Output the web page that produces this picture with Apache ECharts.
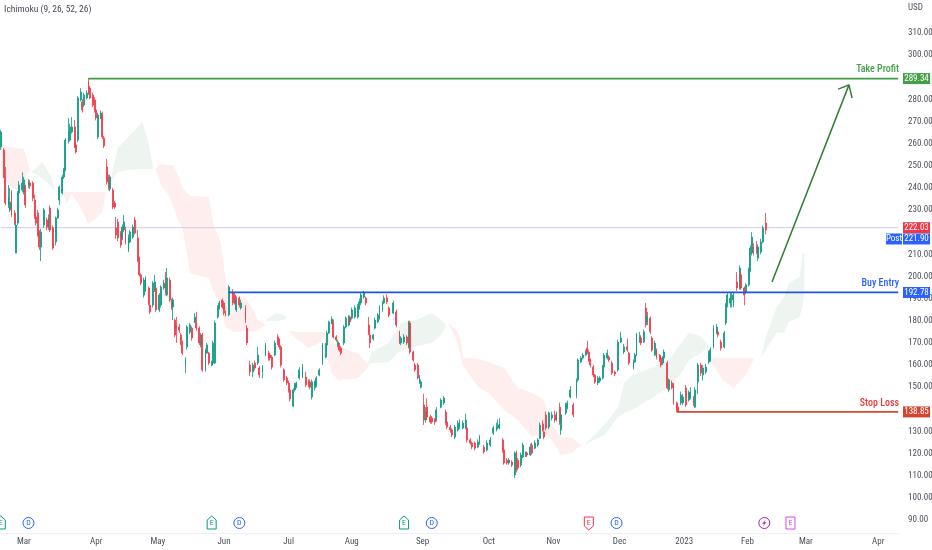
<!DOCTYPE html>
<html><head><meta charset="utf-8">
<style>html,body{margin:0;padding:0;background:#fff}#c{width:932px;height:550px;filter:blur(.35px)}</style>
<script src="https://cdn.jsdelivr.net/npm/echarts@6/dist/echarts.min.js"></script>
</head><body><div id="c"></div>
<script>
const barCount = 584;
const priceTicks = [90,100,110,120,130,150,160,170,180,190,200,210,230,240,250,260,270,280,300,310];
const monthTicks = [[15,'Mar'],[62,'Apr'],[102,'May'],[145,'Jun'],[187,'Jul'],[228,'Aug'],[274,'Sep'],[317,'Oct'],[359,'Nov'],[402,'Dec'],[444,'2023'],[485,'Feb'],[523,'Mar'],[570,'Apr']];
// bar, open, close, low, high
const candles = [
[0,258.5,265.2,257.1,266.1],[2,257.1,244.9,244.5,258],[3,244.9,233.2,232.3,249.4],[5,232.3,235.9,230.9,241.3],[6,230,233.6,229.1,240],[7,238.1,227.8,226.9,239],[9,228.7,224.1,223.2,230],[10,210.6,223.2,210.6,224.6],[11,224.1,237.7,223.2,238.6],[12,237.7,241.3,236.8,243],
[14,239,242.2,238,247],[15,238.1,243.6,237,245],[16,240.4,232.3,231,241.5],[18,241.3,242.7,240,244],[19,242.2,240.9,239.5,243.5],[21,242.2,235.4,234,243],[22,234.5,226.9,226,237],[23,226.9,224.1,223,228.5],[24,228.7,218.7,218,230],[25,220.1,213.3,212,221],
[26,213.3,220.1,207,221.5],[28,223.2,230,222,231],[30,225.5,222.3,221,226.5],[31,222.3,226.4,221,228],[32,230.9,221,220,232],[34,221.9,212.9,212,223],[36,215.6,226.4,214,227],[37,226.4,230,226,231],[38,234.5,240.4,232.3,241],[40,237.7,244.9,237,246],
[41,244.9,248.1,244,249],[42,248.1,261.6,247.5,262.5],[44,260.7,265.2,260,271.5],[45,261.6,267.5,261,269],[46,265.2,267.5,264.5,272],[48,267.5,258.5,258,270.7],[49,259.4,256.2,255.5,260.5],[50,261.6,280.6,260.7,281.5],[52,279.7,283.3,279,285],[53,278.8,275.2,274,280],
[54,277.4,281.9,276.5,283],[56,280.6,282.8,280,284],[57,287.8,282.8,282,289.6],[58,285.1,280.6,280,286],[60,281.9,277.4,276.5,283],[61,279.7,275.2,274,281],[62,275.2,271.6,270.5,276],[63,263,272.9,262,274],[65,271.6,273.8,271,275],[66,272.9,263,262,274.5],
[67,262.5,258.9,258,263.5],[69,249.4,242.7,241.5,253],[70,244.9,240.4,239,246],[71,239.5,244.9,238.5,246],[73,239,231.4,230.5,240],[74,233.2,231.4,230.5,234],[75,221.9,218.7,217,226.9],[76,224.6,217.4,216,226],[78,219.6,214.2,213,220.5],[79,217.4,222.3,216.5,223.5],
[80,221,224.6,220,227.8],[81,221,215.6,214.5,222.5],[83,212,217.8,211,219],[84,215.6,220.1,215,221],[86,217.8,222.3,217,223.5],[87,225.5,219.6,219,226.9],[89,217.4,207.4,206.5,221],[90,208.3,200.7,200,209],[91,200.7,197,196,201.5],[93,191.6,198.4,190.5,199.5],
[94,193.9,199.3,193,200],[96,194.8,188,187,195.5],[97,187.1,184,183,188],[99,187.1,197,186,198],[100,193.9,197.5,193,200.7],[101,194.8,184.9,184,196],[103,184.9,191.6,184,192.5],[104,187.1,195.2,186,196],[106,194.8,197,194,198.5],[107,199.3,192.5,191.5,202],
[108,191.6,199.3,191,203.8],[110,198.4,189.4,188.5,199.5],[111,189.4,186.2,185,190],[112,186.2,189.4,180.3,190.5],[113,180.3,173.6,172.5,181],[114,178.1,176.7,170,181.7],[116,177.2,175.8,174.5,178.5],[117,173.6,170,169,174.5],[118,170,165.4,164.5,171],[120,160,162.3,156.4,163.5],
[121,168.2,177.2,167,178],[123,174.9,178.1,174,179],[124,176.7,172.2,171,177.5],[126,179.5,181.7,179,183.5],[127,179.5,176.7,175.5,184],[129,176.7,170,169,177.5],[130,169.1,173.6,168,174.5],[131,173.6,157.8,157,174.5],[133,157.8,166.8,157,167.5],[134,165.4,169.1,165,170],
[135,165.4,160.9,160,166],[137,160,161.4,159.5,162],[138,160.9,170,160,171],[139,160.9,179,160.5,180],[141,181.7,186.2,181,187],[142,185.8,188,185,189],[144,189.4,186.2,185.5,190],[145,188,183.5,182.5,189],[146,183.5,182.6,182,184.5],[148,182.6,195.2,182,196],
[151,192.5,188,187,194.3],[152,191.6,188,187.3,192.8],[153,184.9,189.4,184,191],[155,190.3,187.1,186,191],[156,185.8,188,185,189.5],[159,185.8,180.3,179,187],[160,176.7,170,169,178],[162,160,156.9,155,162],[164,156.9,160,154.6,161],[165,160.9,158.7,157.5,162],
[167,160.9,164.5,160,168.2],[168,158.7,155.5,154.2,159.5],[170,156.9,159.1,154,160],[172,164.5,169.1,164,170],[174,165.4,163.2,162,166.5],[175,164.5,163.2,162,165.5],[176,163.6,159.1,158,164.5],[178,164.5,169.9,164,171],[180,172.7,170,169,174],[181,171.3,168.2,167,172],
[182,168.2,160,159,169],[184,157.8,153.3,152.5,158.5],[186,154.2,151.9,151,155],[187,151.9,148.8,147.5,153],[188,148.8,144.7,143.5,149.5],[190,141.5,148.8,141,149.5],[191,148.8,151,148,152],[192,150,151.9,149.5,152.5],[194,154.2,157.8,153.5,159],[196,154.6,159.1,154,160.5],
[198,154.6,151,150,157],[200,152.4,151,150,153.5],[201,152.4,150,149,153.5],[202,145.6,152.4,144.5,153.5],[204,149.7,152.4,148.5,153],[205,151,154.2,150,155],[207,155.5,157.8,155,158.5],[209,160.9,169.1,160,170],[211,163.6,169.1,163,170],[212,169.1,174.5,168.5,175.5],
[213,174.5,179.4,174,180],[215,179,180.8,178.5,182],[216,179,172.7,172,180.5],[218,172.7,171.3,170.5,173.5],[219,169.1,170.4,168,171.5],[220,169.1,166.8,166,170],[221,167.7,165.4,164.5,168.5],[223,170,177.2,169,178],[224,177.2,181.2,176.5,182],[226,178.1,181.7,177.5,182.5],
[227,181.7,179.5,178.5,182.5],[228,181.2,184.9,180.5,186],[230,181.7,185.8,181,187],[232,181.7,186.2,181,187.5],[233,185.8,188.5,185,190],[234,188,191.6,187,192.5],[236,190.7,192.5,190,193.5],[237,190.3,188,187,191],[239,178.1,174.5,173.5,181.7],[240,173.6,170,167.7,174.5],
[242,171.8,173.6,171,174],[243,176.7,180.3,176,181.5],[245,179.5,182.6,179,183.5],[246,181.2,185.8,180.5,187],[248,184.9,188,184,189],[249,188,190.3,187.5,191.5],[251,190.3,188.5,187.5,192],[252,185.8,182.6,181.5,186.5],[255,183.5,188,183,189],[257,184,178.1,177,185],
[259,174.9,170.4,169.5,175.5],[260,170,172.2,169,173],[262,170.4,172.7,169.5,174],[264,172.7,170,169,173.5],[265,168.2,179,167.5,180],[266,179,165.9,165,180],[268,165.9,162.3,161.5,166.5],[269,160,157.8,157,161],[271,160,154.2,153.5,161],[272,152.4,154.6,151.5,155.5],
[273,150,152.4,149.5,153.5],[275,142,135.2,133,147],[276,135.2,138.8,134,141],[277,141,136.6,135.5,145],[279,136.6,134.3,133.5,137.5],[280,136.1,134.3,133.5,137],[282,135.2,134.3,133,136],[283,135.2,139.7,134.5,141],[286,141,144.2,140.5,145],[288,142.9,145.1,142,146],
[289,138.8,134.3,133,140],[290,134.3,132,131,135],[292,132,130.7,129.5,133],[293,130.7,128.4,127.5,131.5],[295,127.5,132,126.5,133],[297,130.7,133.8,130,135],[298,132,134.3,131,135.5],[300,131.6,133.8,131,135],[302,131.6,135.2,131,138],[303,131.6,126.2,125,132.5],
[305,126.2,124.8,124,127],[306,124.8,123,122,125.5],[308,124.8,122.5,121.5,125.5],[310,123,125.3,122.5,126.5],[311,124.8,127.5,124,128.5],[314,123,120.8,120,124],[316,121.7,124.8,121,126],[318,123.9,126.2,123,127.5],[320,129.3,131.6,128.5,132.5],[322,130.7,132,130,134],
[323,131.6,133,131,135.5],[324,131.6,133.4,131,136],[326,126.2,121.7,120.5,127],[327,121.7,115.8,115,122.5],[329,117.1,115.8,115,118],[330,115.8,117.1,115,118],[332,116.2,114.9,114,117],[334,110.4,120.3,109,121],[335,120.8,112.6,111.5,121.5],[336,117.1,113.5,112.5,118],
[338,114.9,119.4,114,120.5],[339,118.5,123.9,118,125],[341,119,120.3,118.5,121],[342,120.3,119.4,118.5,121],[344,119.4,123,119,124.5],[345,123.9,120.3,119.5,125],[347,122.5,124.8,122,126],[349,123.9,126.2,123,127],[350,127,132.9,126.5,134],[352,133.4,130.7,130,135],
[353,129.8,127.5,126.5,130.5],[354,137.5,131.6,130.5,139],[356,132,138.4,131,139],[358,136.1,137.5,135,139],[360,137.5,135.2,134,139.5],[361,135.2,138.4,134.5,139],[363,141,134.3,133,143],[364,130.7,137.5,128.5,138.5],[367,138.4,142,137.5,143],[368,141,142.9,140,144],
[370,145.6,148.8,145,150.5],[372,142,137.5,136.5,143],[374,146.5,153.3,145,154],[375,153.3,162.3,152.5,163],[377,161.4,163.2,161,164],[378,163.2,164.5,162.5,165.5],[380,164.5,165.9,164,167],[381,167.7,165.9,165,171],[382,165.9,162.3,161.5,167],[383,162.3,160,159,163],
[385,159.1,155.5,154.5,160],[386,155.5,152.4,151.5,156],[388,151.9,154.2,151,155],[389,152.8,154.2,152,155],[391,154.2,159.1,153.5,160],[392,159.1,164.5,158.5,165.5],[394,163.2,165.4,162.5,167],[395,163.6,162.3,161.5,164.5],[397,160.9,156.4,155.5,162],[399,156.9,156,155,157.5],
[401,157.8,170.4,157,171.5],[403,170.4,172.2,170,175],[405,165.9,168.2,165,169.5],[407,168.2,166.8,166,172],[408,165.4,160.9,160,166],[411,158.7,161.4,158,162.5],[412,161.4,164.5,161,165.5],[413,164.5,173.6,164,174.5],[415,170.4,172.7,170,175],[416,172.2,170,169,173.5],
[418,170.4,175,170,176],[419,185.8,178.1,177,188],[420,179.5,181.7,178,184],[422,181.2,175,174,182],[423,172.2,166.8,166,173],[425,164.5,169.9,164,171],[426,166.8,163.6,162.5,167.5],[428,164.5,162.3,161.5,165],[429,163.2,160,159,164],[430,160.9,163.2,160,164],
[431,163.2,165.9,162.5,167],[433,160.9,149.7,149,162],[434,148.8,153.3,148,154],[436,151.9,149.7,149,153],[437,151,142.9,142,152],[439,142.9,139.7,139,143.5],[440,141,139.3,138.8,142],[442,142.9,146.5,142,148],[443,142.9,145.6,142,147],[445,149.7,142,141,151],
[447,144.2,147.4,143.5,148.5],[448,145.1,147.8,144.5,150],[450,145.1,142.9,141.5,146],[451,141,148.8,140.5,150],[453,152.4,160,147,161],[455,160,156.4,155,161],[456,155.5,158.7,153,160],[458,156.9,159.1,156,160.5],[460,161.4,165.4,160.5,166.5],[461,162.3,166.8,161.5,168],
[463,168.2,176.7,167.5,178],[465,174.5,177.2,174,178.5],[466,174.9,173.6,172.5,176],[468,170.4,167.7,166.5,171.5],[470,168.2,174.5,167.5,175.5],[471,179,187.1,178,188],[472,187.1,191.6,186,192.5],[474,188,190.3,186,192.8],[475,189.4,191.6,186,193],[476,187.1,191.6,186,193],
[478,197.5,194.8,193.5,202],[480,194.8,203.8,194,205],[481,200.7,194.8,194,202],[483,194.8,191.6,187,195.5],[484,193,196.2,192,197],[486,196.2,202.9,195.5,204],[487,202.9,212.9,202,214],[488,210.6,217.8,209.5,220],[489,213.3,210.6,209.5,215],[491,213.3,211,210,216],
[492,208.3,213.3,207,214.5],[494,211,215.6,210,217],[495,215.6,221.9,215,223],[497,224.1,221,219,228.7]
];
// bar, upper, lower
const pinkCloud1 = [[0,260.3,245.8],[5,258.5,241.3],[10,258,239],[15,257.6,243.6],[18,250.3,247.2],[19,248.1,248.1]];
const greenCloud1 = [[20,247.2,247.2],[27,251.7,244.5],[33,244.9,240.4],[35,239,239]];
const pinkCloud2 = [[40,238.1,238.1],[43,238.1,233.2],[46,238.1,237.2],[51,238.1,232.3],[57,238.1,223.7],[62,238.1,226.4],[66,238.1,229.1],[68,238.1,236.8]];
const greenCloud2 = [[71,242.2,242.2],[73,249,244.5],[76,258,247.2],[83,263,248.1],[92,269.7,248.5],[96,260.3,248.5],[99,249,248.5]];
const pinkCloud3 = [[101,249,248.1],[104,250.8,241.3],[109,250.3,236.8],[112,250,232],[115,245.8,225.5],[118,239.9,222.3],[123,236.3,201.6],[135,235.9,199.3],[138,224.1,193.9],[143,215.1,184.9],[146,198.4,177.2],[151,191.2,174.9],[159,190.3,175.4],[164,184.9,174.9],[167,180.3,175.8],[172,178.1,178.1]];
const greenCloud3 = [[173,180.8,179.9],[179,183.5,179.9],[184,182.6,180.3],[186,181.3,181.3]];
const pinkCloud4 = [[187,175.4,175.4],[193,174.9,171.3],[200,174.9,167.7],[208,174.9,170.4],[211,174.5,173.6]];
const pinkCloud5 = [[210,173.6,169.1],[215,170.4,156.4],[219,169.1,153.3],[228,165.9,153.7],[232,165.4,154.2],[237,161.4,157.8],[239,160,159.6]];
const greenCloud4 = [[238,160,160],[241,165.9,160.9],[252,170,161.4],[260,179,166.8],[270,180.3,168.6],[280,183.5,170],[286,180.3,173.6],[289,178.1,177.2]];
const pinkCloud6 = [[291,179,178.5],[296,175.8,171.3],[299,171.3,163.2],[300,163.6,160],[310,162.7,150.1],[317,161.4,147.4],[327,158.7,139.7],[336,149.6,135.2],[345,147.4,127.5],[353,144.2,128.9],[358,132.9,126.2],[364,127.5,119.4],[371,127.1,120.3],[377,123.9,123.9]];
const greenCloud5 = [[379,123.9,123.9],[392,132.9,128.4],[401,141.1,136.5],[405,151.9,138.4],[410,155.5,139.7],[424,159.1,145.6],[434,162.3,150.1],[442,170,156.4],[447,174.5,162.3],[453,173.6,164.5],[457,171.3,166.8],[460,168.2,167.3]];
const pinkCloud7 = [[458,164.5,163.6],[463,163.2,160],[469,163.2,153.3],[476,163.2,149.7],[484,163.2,155.5],[489,163.2,162.3]];
const greenCloud6 = [[494,163.6,163.2],[497,172.7,166.8],[504,186.2,174.5],[509,190.7,174.5],[512,197,179.4],[519,199.8,181.7],[521,210.6,187.1],[522,210.6,193.9]];

const takeProfit = [[57,289.34],[583,289.34]];
const buyEntry = [[148,192.78],[583,192.78]];
const stopLoss = [[439,138.85],[583,138.85]];
const lastPrice = [[0,222.03],[583,222.03]];
const arrowShaft = [[501,197.5],[551,286.5]];
const arrowHead = [[544,284.6],[551,286.5],[553,280.6]];
const priceTags = [['289.34',289.34,'#43a047'],['222.03',222.03,'#f23645'],['221.90',221.90,'#2962ff'],['192.78',192.78,'#2962ff'],['138.85',138.85,'#d8432f']];
const events = [[0,'E','#089981'],[18,'D','#2962ff'],[137,'E','#089981'],[155,'D','#2962ff'],[262,'E','#089981'],[280,'D','#2962ff'],[382,'e','#f23645'],[400,'D','#2962ff'],[496,'S','#9c27b0'],[513,'P','#e040fb']];

const FONT = '"Liberation Sans Narrow","Roboto Condensed",Roboto,sans-serif';
const AXIS_TEXT = '#4a4f5a';
const monthMap = Object.fromEntries(monthTicks);
const categories = Array.from({length: barCount}, (_, i) => String(i));

function cloud(rows, color) {
  return {
    type: 'custom', coordinateSystem: 'cartesian2d', z: 1, silent: true, animation: false,
    data: rows, encode: {x: 0, y: [1, 2]},
    renderItem(params, api) {
      if (params.dataIndex !== 0) return null;
      const up = rows.map(r => api.coord([r[0], r[1]]));
      const lo = rows.map(r => api.coord([r[0], r[2]])).reverse();
      return {type: 'polygon', shape: {points: up.concat(lo)}, style: {fill: color}};
    }
  };
}
function hline(pts, color, width, z) {
  return {type: 'line', data: pts, showSymbol: false, symbol: 'none', z: z || 4, silent: true, animation: false,
    lineStyle: {color, width}};
}
const PINK = '#feeeee', GREEN = '#eef5f0';
const series = [
  cloud(pinkCloud1, PINK), cloud(greenCloud1, GREEN), cloud(pinkCloud2, PINK), cloud(greenCloud2, GREEN),
  cloud(pinkCloud3, PINK), cloud(greenCloud3, GREEN), cloud(pinkCloud4, PINK), cloud(pinkCloud5, PINK),
  cloud(greenCloud4, GREEN), cloud(pinkCloud6, PINK), cloud(greenCloud5, GREEN), cloud(pinkCloud7, PINK), cloud(greenCloud6, GREEN),
  hline(lastPrice, '#cfcbec', 1, 2),
  {
    type: 'candlestick', z: 3, silent: true, animation: false, barWidth: 1.4,
    data: candles, encode: {x: 0, y: [1, 2, 3, 4]},
    itemStyle: {color: '#089981', color0: '#f23645', borderColor: '#089981', borderColor0: '#f23645', borderWidth: 0.8}
  },
  hline(takeProfit, '#3f9d43', 1.6),
  hline(buyEntry, '#1f55e6', 1.8),
  hline(stopLoss, '#d5482f', 1.6),
  hline(arrowShaft, '#2e7d32', 1.5),
  hline(arrowHead, '#2e7d32', 1.5),
  {
    type: 'custom', z: 6, silent: true, animation: false, clip: false,
    data: priceTags.map(t => [0, t[1]]),
    renderItem(params, api) {
      const t = priceTags[params.dataIndex];
      const cs = params.coordSys;
      const left = cs.x + cs.width + 4;
      const shift = t[0] === '221.90' ? 11 : 0;
      const y = api.coord([0, t[1]])[1] + shift;
      const kids = [
        {type: 'rect', shape: {x: left, y: y - 5.5, width: 27, height: 11}, style: {fill: t[2]}},
        {type: 'text', x: left + 13.5, y, style: {text: t[0], fill: '#fff', font: '9px ' + FONT, align: 'center', verticalAlign: 'middle'}}
      ];
      if (shift) {
        kids.push({type: 'rect', shape: {x: left - 17, y: y - 5.5, width: 16, height: 11}, style: {fill: t[2]}});
        kids.push({type: 'text', x: left - 9, y, style: {text: 'Post', fill: '#fff', font: '9px ' + FONT, align: 'center', verticalAlign: 'middle'}});
      }
      return {type: 'group', children: kids};
    }
  },
  {
    type: 'custom', z: 6, silent: true, animation: false, clip: false,
    data: events.map(e => [e[0], 90]), encode: {x: 0, y: 1},
    renderItem(params, api) {
      const e = events[params.dataIndex];
      const x = api.coord([e[0], 90])[0], y = 523, c = e[2];
      const border = {fill: '#fff', stroke: c, lineWidth: 1};
      const kids = [];
      let letter = e[1].toUpperCase();
      if (e[1] === 'E') kids.push({type: 'polygon', shape: {points: [[x-4.5,y-3],[x,y-7],[x+4.5,y-3],[x+4.5,y+6],[x-4.5,y+6]]}, style: border});
      if (e[1] === 'e') kids.push({type: 'polygon', shape: {points: [[x-4.5,y-6],[x+4.5,y-6],[x+4.5,y+3],[x,y+7],[x-4.5,y+3]]}, style: border});
      if (e[1] === 'P') { kids.push({type: 'rect', shape: {x: x-4.5, y: y-6, width: 9, height: 12}, style: border}); letter = 'E'; }
      if (e[1] === 'D' || e[1] === 'S') kids.push({type: 'circle', shape: {cx: x, cy: y, r: 5.5}, style: border});
      if (e[1] === 'S') kids.push({type: 'polygon', shape: {points: [[x+1.5,y-3.5],[x-2,y+.7],[x-.2,y+.7],[x-1.5,y+3.5],[x+2,y-.7],[x+.2,y-.7]]}, style: {fill: c}});
      else kids.push({type: 'text', x, y, style: {text: letter, fill: c, font: '8px ' + FONT, align: 'center', verticalAlign: 'middle'}});
      return {type: 'group', children: kids};
    }
  }
];

function note(text, y, fill) {
  return {type: 'text', x: 899, y, style: {text, fill, font: '500 10px ' + FONT, align: 'right', verticalAlign: 'middle'}};
}
const chart = echarts.init(document.getElementById('c'), null, {renderer: 'canvas'});
chart.setOption({
  animation: false,
  backgroundColor: '#fff',
  grid: {left: 0, right: 33, top: 0, bottom: 16.6, outerBoundsMode: 'none'},
  xAxis: {
    type: 'category', data: categories, boundaryGap: true,
    axisLine: {lineStyle: {color: '#eef0f4', width: 1}}, axisTick: {show: false}, splitLine: {show: false},
    axisLabel: {
      color: AXIS_TEXT, fontFamily: FONT, fontSize: 9, margin: 4, hideOverlap: false,
      interval: i => monthMap[i] !== undefined,
      formatter: (v, i) => monthMap[i] || ''
    }
  },
  yAxis: {
    type: 'value', position: 'right', min: 84, max: 324.83, scale: true,
    axisLine: {show: false}, axisTick: {show: false}, splitLine: {show: false},
    axisLabel: {customValues: priceTicks, color: AXIS_TEXT, fontFamily: FONT, fontSize: 9, margin: 9, formatter: v => v.toFixed(2)}
  },
  graphic: [
    {type: 'text', x: 4, y: 10, style: {text: 'Ichimoku (9, 26, 52, 26)', fill: '#474c57', font: '9.5px ' + FONT, verticalAlign: 'middle'}},
    {type: 'text', x: 908, y: 8, style: {text: 'USD', fill: AXIS_TEXT, font: '9px ' + FONT, verticalAlign: 'middle'}},
    note('Take Profit', 69, '#43a047'),
    note('Buy Entry', 283.5, '#2962ff'),
    note('Stop Loss', 403.5, '#e53935')
  ],
  series
});
</script></body></html>
